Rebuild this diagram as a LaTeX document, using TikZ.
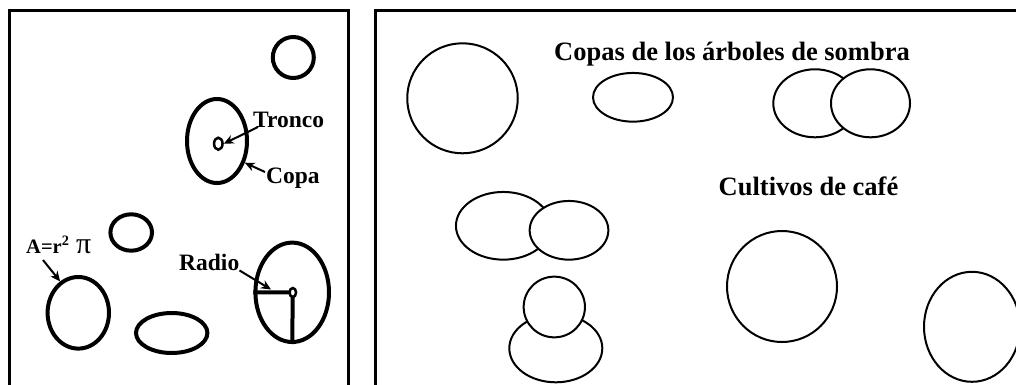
\documentclass[tikz,border=0pt]{standalone}
\usepackage{fontspec}
\setmainfont{Liberation Serif}
\usetikzlibrary{shapes.geometric,arrows.meta}
\begin{document}
\begin{tikzpicture}[x=1pt,y=-1pt,
  thickshape/.style={draw, ellipse, line width=4pt, inner sep=0pt, fill=white},
  thinshape/.style={draw, ellipse, line width=2pt, inner sep=0pt, fill=white},
  trunk/.style={draw, ellipse, line width=2.5pt, inner sep=0pt, fill=white},
  lbl/.style={inner sep=0pt, anchor=base west, font=\bfseries\fontsize{23.5}{25}\selectfont},
  title/.style={inner sep=0pt, anchor=base, font=\bfseries\fontsize{26.5}{28}\selectfont},
  pointer/.style={line width=2pt, -{Stealth[length=10pt,width=9pt]}},
  frame/.style={line width=3pt},
  radius/.style={line width=4pt}
]
\useasboundingbox (0,0) rectangle (1016,385);
\clip (0,0) rectangle (1016,385);

% frames
\draw[frame] (9.5,392) -- (9.5,11) -- (348.5,11) -- (348.5,392);
\draw[frame] (375.7,392) -- (375.7,11) -- (1030,11);

% ---------- left panel ----------
\node[thickshape, minimum width=41pt, minimum height=41pt] (c1) at (293.3,57.5) {};
\node[thickshape, minimum width=60pt, minimum height=84pt] (copa) at (217,141) {};
\node[trunk, minimum width=8.5pt, minimum height=12pt] (tr1) at (218.3,143.7) {};
\node[thickshape, minimum width=41.6pt, minimum height=36.4pt] (c2) at (131.2,232.5) {};
\node[thickshape, minimum width=61.4pt, minimum height=71.6pt] (eleft) at (78.3,312.8) {};
\node[thickshape, minimum width=71.4pt, minimum height=40pt] (ebot) at (171.7,333) {};
\node[thickshape, minimum width=73.6pt, minimum height=99.4pt] (erad) at (292.2,292.3) {};
\draw[radius] (erad.west) -- (292.8,292.5);
\draw[radius] (erad.south) -- (292.8,292.5);
\node[trunk, minimum width=6.5pt, minimum height=9pt] (tr2) at (292.8,292.5) {};

\node[lbl] (tronco) at (253,127) {Tronco};
\node[lbl] (copalbl) at (266,183) {Copa};
\node[lbl] (radio) at (179,270) {Radio};
\node[lbl, font=\bfseries\fontsize{20.5}{22}\selectfont] (area) at (26,253) {A=r\textsuperscript{2}};
\node[inner sep=0pt, anchor=base west, font=\fontsize{30}{32}\selectfont] (pi) at (76,253) {π};

\coordinate (trstart) at (258,127);
\coordinate (cpstart) at (265,172);
\coordinate (rdtip) at (271,289.5);
\coordinate (arstart) at (43,260);
\draw[pointer] (trstart) -- (tr1.east);
\draw[pointer] (cpstart) -- (copa.-38);
\draw[pointer] (radio.south east) -- (rdtip);
\draw[pointer] (arstart) -- (eleft.120);

% ---------- right panel ----------
\node[title] (t1) at (732,61) {Copas de los árboles de sombra};
\node[title] (t2) at (808.5,195) {Cultivos de café};

\node[thinshape, minimum width=110.5pt, minimum height=110pt] (big1) at (462.5,98.3) {};
\node[thinshape, minimum width=80pt, minimum height=48.7pt] (small1) at (633,97.3) {};
\node[thinshape, minimum width=83.4pt, minimum height=68pt] (pairL) at (815,103.3) {};
\node[thinshape, minimum width=79pt, minimum height=68pt] (pairR) at (870.5,103.3) {};
\node[thinshape, minimum width=94.7pt, minimum height=67.7pt] (midL) at (503.3,225.8) {};
\node[thinshape, minimum width=78.7pt, minimum height=58.7pt] (midR) at (569,230.3) {};
\node[thinshape, minimum width=93pt, minimum height=68pt] (lowE) at (555.8,348.3) {};
\node[thinshape, minimum width=61.3pt, minimum height=60.7pt] (upC) at (554.3,307) {};
\node[thinshape, minimum width=110pt, minimum height=111pt] (cafe1) at (782,286.5) {};
\node[thinshape, minimum width=96pt, minimum height=110pt] (cafe2) at (972,326.8) {};
\end{tikzpicture}
\end{document}
